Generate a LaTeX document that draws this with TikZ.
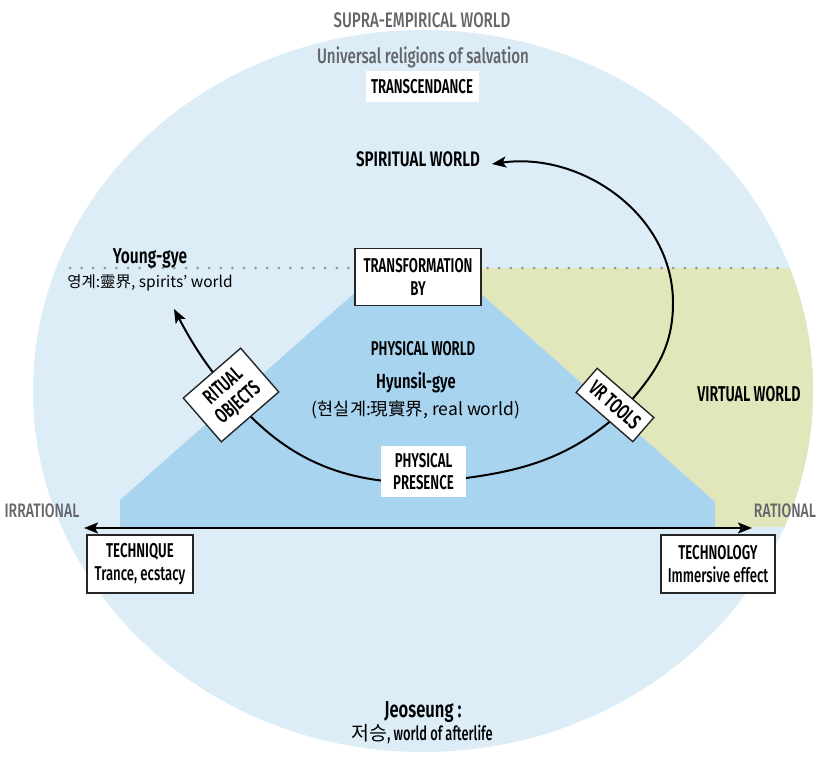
\documentclass[tikz,border=0pt]{standalone}
\usepackage{fontspec}
\setmainfont{Fira Sans Medium}[FakeStretch=0.66,BoldFont={Fira Sans SemiBold}]
\newfontfamily\titlefont{Fira Sans Medium}[FakeStretch=0.72,BoldFont={Fira Sans SemiBold}]
\newfontfamily\kor{Noto Sans CJK KR}
\usetikzlibrary{arrows.meta}
\definecolor{skyback}{RGB}{220,237,248}
\definecolor{physblue}{RGB}{168,212,240}
\definecolor{virtgreen}{RGB}{226,230,187}
\definecolor{titlegray}{RGB}{100,101,105}
\definecolor{dotgray}{RGB}{150,150,150}

\begin{document}
\begin{tikzpicture}[x=1pt,y=1pt,
	graytitle/.style={text=titlegray,anchor=base,font=\titlefont\fontsize{21}{24}\selectfont},
	worldlbl/.style={anchor=base,font=\titlefont\bfseries\fontsize{21}{24}\selectfont},
	korline/.style={anchor=base,font=\kor\fontsize{15.5}{18}\selectfont},
	lblbox/.style={draw=black!85,line width=1.4pt,fill=white,align=center,inner sep=0pt,font=\bfseries\fontsize{20}{22.5}\selectfont},
	whitebox/.style={fill=white,align=center,inner sep=0pt,font=\bfseries\fontsize{20}{22.5}\selectfont},
	bigtip/.tip={Stealth[length=14pt,width=11pt,inset=3pt]},
	curvearc/.style={line width=2pt}]
	\useasboundingbox[fill=white] (0,0) rectangle (824,-762);

	% the worlds
	\fill[skyback] (423,-391) ellipse [x radius=390, y radius=361];
	\begin{scope}
		\clip (423,-391) ellipse [x radius=390, y radius=361];
		\fill[virtgreen] (452,-268) -- (830,-268) -- (830,-527) -- (715,-527) -- (715,-502) -- cycle;
	\end{scope}
	\fill[physblue] (120,-527) -- (120,-500) -- (383,-268) -- (452,-268) -- (715,-502) -- (715,-527) -- cycle;
	\draw[dotgray,line width=3pt,line cap=round,dash pattern=on 0pt off 11.6pt] (70,-268) -- (780,-268);

	% rational axis
	\coordinate (irrend) at (84,-528);
	\coordinate (ratend) at (752,-528);
	\draw[line width=2.2pt,bigtip-bigtip] (irrend) -- (ratend);

	% the path through the worlds
	\coordinate (ygtip) at (174,-309);
	\coordinate (ritual) at (231,-395);
	\coordinate (presence) at (423,-483);
	\coordinate (vrtools) at (621,-412);
	\coordinate (vrtop) at (673,-303);
	\coordinate (spirittip) at (492,-164);
	\draw[curvearc,-bigtip] (ritual) to[out=130,in=-62] (ygtip);
	\draw[curvearc] (ritual) to[out=-50,in=180] (presence);
	\draw[curvearc] (presence) to[out=6,in=-138] (vrtools);
	\draw[curvearc] (vrtools) to[out=48,in=-90] (vrtop);
	\draw[curvearc,-bigtip] (vrtop) to[out=90,in=8] (spirittip);

	% titles
	\node[graytitle] (supra) at (422,-28) {SUPRA-EMPIRICAL WORLD};
	\node[graytitle] (salvation) at (423,-64) {Universal religions of salvation};
	\node[whitebox,minimum width=113,minimum height=31] (transc) at (422,-87) {TRANSCENDANCE};
	\node[worldlbl] (spiritual) at (418,-167) {SPIRITUAL WORLD};
	\node[worldlbl,font=\titlefont\bfseries\fontsize{21.5}{24}\selectfont] (younggye) at (150,-263) {Young-gye};
	\node[korline] (yeonggye) at (150,-287) {영계:靈界, spirits’ world};
	\node[lblbox,minimum width=126,minimum height=57] (transform) at (418,-277) {TRANSFORMATION\\BY};
	\node[worldlbl,font=\bfseries\fontsize{20}{24}\selectfont] (physworld) at (423,-355) {PHYSICAL WORLD};
	\node[worldlbl,font=\titlefont\bfseries\fontsize{20.5}{24}\selectfont] (hyunsil) at (416,-388) {Hyunsil-gye};
	\node[korline,font=\kor\fontsize{17.5}{20}\selectfont] (hyunsilkr) at (416,-415) {(현실계:現實界, real world)};
	\node[worldlbl,font=\bfseries\fontsize{21.5}{24}\selectfont] (virtual) at (749,-401) {VIRTUAL WORLD};
	\node[lblbox,minimum width=76,minimum height=58,rotate=41,font=\bfseries\fontsize{21}{22.5}\selectfont] (ritualbox) at (231,-395) {RITUAL\\OBJECTS};
	\node[lblbox,minimum width=75,minimum height=32,rotate=-41,font=\bfseries\fontsize{21}{22.5}\selectfont] (vrbox) at (615,-405) {VR TOOLS};
	\node[whitebox,minimum width=85,minimum height=51] (presencebox) at (423.5,-471.5) {PHYSICAL\\PRESENCE};
	\node[graytitle,font=\titlefont\fontsize{19.5}{23}\selectfont] (irrational) at (42,-517) {IRRATIONAL};
	\node[graytitle,font=\titlefont\fontsize{19.5}{23}\selectfont] (rational) at (785,-517) {RATIONAL};
	\node[lblbox,minimum width=106,minimum height=58] (technique) at (140,-564) {TECHNIQUE\\\mdseries Trance, ecstacy};
	\node[lblbox,minimum width=114,minimum height=58] (technology) at (718,-564) {TECHNOLOGY\\\mdseries Immersive effect};
	\node[worldlbl,font=\titlefont\bfseries\fontsize{23}{26}\selectfont] (jeoseung) at (423,-717) {Jeoseung :};
	\node[anchor=base,font=\fontsize{19.5}{23}\selectfont] (jeoseungkr) at (422,-740) {{\kor 저승}, world of afterlife};
\end{tikzpicture}
\end{document}
